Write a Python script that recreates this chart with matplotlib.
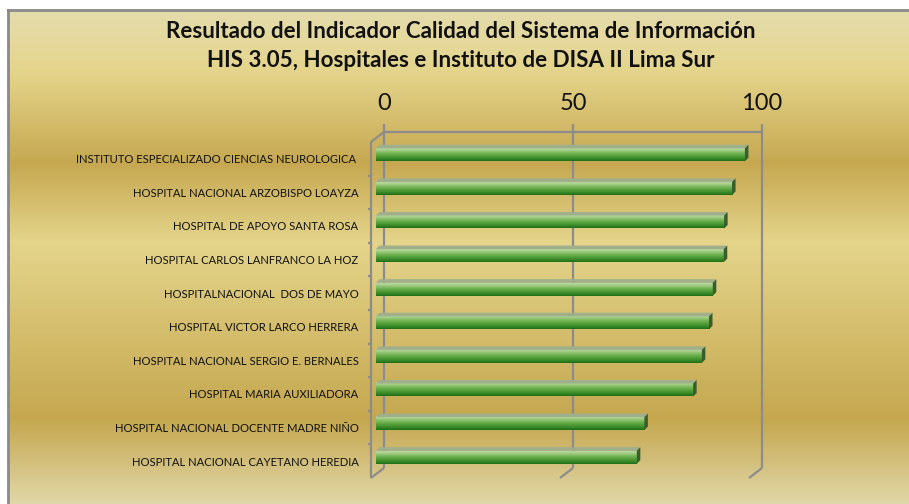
import matplotlib
matplotlib.use("Agg")
import matplotlib.pyplot as plt
import numpy as np
from matplotlib.colors import LinearSegmentedColormap
from matplotlib.patches import Polygon

# data
hospitals = [
    "INSTITUTO ESPECIALIZADO CIENCIAS NEUROLOGICA ",
    "HOSPITAL NACIONAL ARZOBISPO LOAYZA",
    "HOSPITAL DE APOYO SANTA ROSA",
    "HOSPITAL CARLOS LANFRANCO LA HOZ",
    "HOSPITALNACIONAL  DOS DE MAYO",
    "HOSPITAL VICTOR LARCO HERRERA",
    "HOSPITAL NACIONAL SERGIO E. BERNALES",
    "HOSPITAL MARIA AUXILIADORA",
    "HOSPITAL NACIONAL DOCENTE MADRE NIÑO",
    "HOSPITAL NACIONAL CAYETANO HEREDIA",
]
scores = [97.6, 94.2, 92.1, 92.0, 89.1, 88.1, 86.2, 83.9, 71.0, 69.0]
x_ticks = [0, 50, 100]

title = ("Resultado del Indicador Calidad del Sistema de Información\n"
         "HIS 3.05, Hospitales e Instituto de DISA II Lima Sur")

FONT = "Lato"
GRID = "#8c8c8c"

W, H = 909, 504
fig = plt.figure(figsize=(W / 100, H / 100), dpi=100)
fig.patch.set_facecolor("white")

# gold gradient background
bg = fig.add_axes([8 / W, 0, 1 - 8 / W, (H - 10) / H])
bg_cmap = LinearSegmentedColormap.from_list("gold", [
    (0.00, "#e4dcad"), (0.12, "#e5d58c"), (0.31, "#c6a851"),
    (0.47, "#e4d58b"), (0.83, "#c5a74f"), (1.00, "#e0d7a8")])
bg.imshow(np.linspace(0, 1, 256)[:, None], aspect="auto", cmap=bg_cmap,
          extent=(0, 1, 0, 1), origin="upper")
bg.set_xlim(0, 1)
bg.set_ylim(0, 1)
bg.set_xticks([])
bg.set_yticks([])
for side in ["right", "bottom"]:
    bg.spines[side].set_visible(False)
for side in ["left", "top"]:
    bg.spines[side].set_color("#8a8a8a")
    bg.spines[side].set_linewidth(2)

fig.text(461 / W, 1 - 46 / H, title, ha="center", va="center", fontsize=16.1,
         fontweight="bold", family=FONT, color="#111111", linespacing=1.45)

# front plane of the 3d frame
left, right, top, bottom = 371, 749, 142, 478
ax = fig.add_axes([left / W, (H - bottom) / H, (right - left) / W, (bottom - top) / H])
ax.set_facecolor("none")
n = len(hospitals)
ax.set_xlim(0, 100)
ax.set_ylim(n - 0.5, -0.5)
for s in ax.spines.values():
    s.set_visible(False)
ax.set_xticks([])

PX_X = 100 / (right - left)
PX_Y = n / (bottom - top)
bx, by = 13 * PX_X, -10 * PX_Y          # back plane offset
y_top, y_bot = -0.5, n - 0.5

line_kw = dict(color=GRID, lw=1.6, clip_on=False, solid_capstyle="butt", zorder=1)
# back wall gridlines + tick extensions
for xv in x_ticks:
    ax.plot([xv + bx, xv + bx], [y_top + by - 8 * PX_Y, y_bot + by], **line_kw)
    ax.plot([xv, xv + bx], [y_bot, y_bot + by], **line_kw)
    ax.text(xv + bx, y_top + by - 28 * PX_Y, str(xv), ha="center", va="center",
            fontsize=17, family=FONT, color="#111111")
ax.plot([x_ticks[0] + bx, x_ticks[-1] + bx], [y_top + by, y_top + by], **line_kw)
ax.plot([0, bx], [y_top, y_top + by], **line_kw)
ax.plot([0, 0], [y_top, y_bot], **line_kw)
for yb in np.arange(0.5, n - 0.5):
    ax.plot([-3 * PX_X, 0], [yb, yb], **line_kw)

# category labels
ax.set_yticks(range(n))
ax.set_yticklabels(hospitals, fontsize=8.1, family=FONT, color="#111111")
ax.tick_params(axis="y", length=0, pad=9)

# 3d bars
front_cmap = LinearSegmentedColormap.from_list("barfront", [
    (0.00, "#b9d9a2"), (0.15, "#a6cf89"), (0.35, "#7dba5e"),
    (0.60, "#55a03a"), (0.85, "#338424"), (1.00, "#1f6c15")])
ox, oy = 5 * PX_X, -4 * PX_Y            # bar plane offset
dx, dy = 3.5 * PX_X, -3.5 * PX_Y        # bar depth
bh = 13 * PX_Y
for i, v in enumerate(scores):
    yc = i + oy
    ya, yb = yc - bh / 2, yc + bh / 2
    xa, xb = ox, ox + v
    ax.imshow(np.linspace(0, 1, 64)[:, None], cmap=front_cmap, aspect="auto",
              extent=(xa, xb, yb, ya), origin="upper", zorder=3)
    ax.add_patch(Polygon([(xa, ya), (xb, ya), (xb + dx, ya + dy), (xa + dx, ya + dy)],
                         closed=True, facecolor="#9fae8b", edgecolor="none", zorder=3))
    ax.add_patch(Polygon([(xb, ya), (xb, yb), (xb + dx, yb + dy), (xb + dx, ya + dy)],
                         closed=True, facecolor="#3a5d2d", edgecolor="none", zorder=3))

ax.set_xlim(0, 100)
ax.set_ylim(n - 0.5, -0.5)

fig.savefig("out.png", dpi=100)
